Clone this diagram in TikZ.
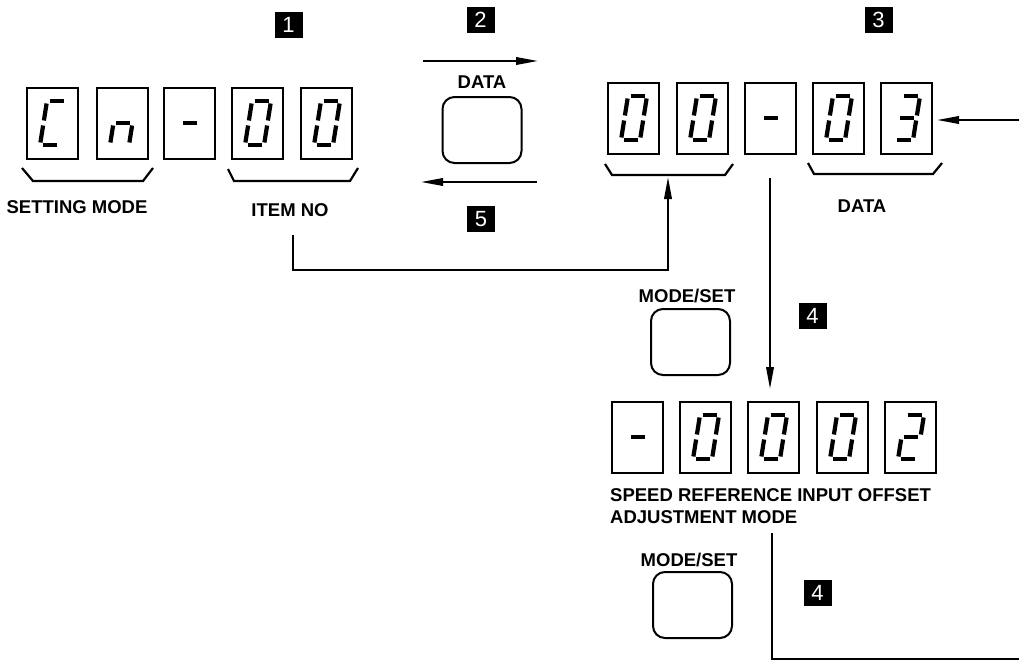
\documentclass[tikz,border=0pt]{standalone}
\usepackage{fontspec}
\setmainfont{Liberation Sans}
\usetikzlibrary{arrows.meta,calc}
\newcommand\ssga{\draw[segline] (22.5,13) -- (36.5,13);}
\newcommand\ssgb{\draw[segline] (38.6,15.5) -- (35.9,32.5);}
\newcommand\ssgc{\draw[segline] (35.1,37.5) -- (32.4,54.5);}
\newcommand\ssgd{\draw[segline] (15.5,57) -- (29.5,57);}
\newcommand\ssge{\draw[segline] (16.1,37.5) -- (13.4,54.5);}
\newcommand\ssgf{\draw[segline] (19.6,15.5) -- (16.9,32.5);}
\newcommand\ssgg{\draw[segline] (19,35) -- (33,35);}
\newcommand\sevenseg[4]{%
  \node[dbox] (#1) at (#2+25.5,#3+35.5) {};
  \begin{scope}[shift={(#2,#3)}]
    \foreach \s in {#4}{\csname ssg\s\endcsname}
  \end{scope}}
\tikzset{
  dbox/.style={draw, line width=2.2pt, minimum width=51pt, minimum height=71pt, inner sep=0pt},
  segline/.style={line width=4.2pt},
  badge/.style={fill=black, text=white, minimum width=28pt, minimum height=26pt, inner sep=0pt,
    font=\fontsize{22}{22}\selectfont},
  lbl/.style={inner sep=0pt, font=\bfseries\fontsize{18.5}{18.5}\selectfont},
  button/.style={draw, line width=2pt, rounded corners=12pt, minimum width=79pt, minimum height=66pt, inner sep=0pt},
  conn/.style={line width=2pt},
  arr/.style={line width=2pt, -{Triangle[length=22pt,width=7.5pt]}},
  brk/.style={line width=2.2pt}
}
\begin{document}
\begin{tikzpicture}[x=1pt,y=-1pt]
\useasboundingbox (0,0) rectangle (1019,661);
% left display
\sevenseg{L1}{27}{88}{a,f,e,d}
\sevenseg{L2}{97}{88}{g,e,c}
\sevenseg{L3}{164}{88}{g}
\sevenseg{L4}{232}{88}{a,b,c,d,e,f}
\sevenseg{L5}{301}{88}{a,b,c,d,e,f}
% right display
\sevenseg{R1}{608}{83}{a,b,c,d,e,f}
\sevenseg{R2}{677}{83}{a,b,c,d,e,f}
\sevenseg{R3}{745}{83}{g}
\sevenseg{R4}{813}{83}{a,b,c,d,e,f}
\sevenseg{R5}{881}{83}{a,b,c,d,g}
% bottom display
\sevenseg{B1}{612}{402}{g}
\sevenseg{B2}{680}{402}{a,b,c,d,e,f}
\sevenseg{B3}{748}{402}{a,b,c,d,e,f}
\sevenseg{B4}{817}{402}{a,b,c,d,e,f}
\sevenseg{B5}{885}{402}{a,b,g,e,d}
% brackets
\draw[brk] (22,168) -- (33,181) -- (143,181) -- (153,168);
\draw[brk] (228,169) -- (234,181) -- (350,181) -- (358,168);
\draw[brk] (605,164) -- (612,175) -- (725,175) -- (733,164);
\draw[brk] (808,163) -- (814,174) -- (933,174) -- (942,163);
% badges
\node[badge] (n1) at (288.5,25) {1};
\node[badge] (n2) at (480.5,20) {2};
\node[badge] (n3) at (878.5,20) {3};
\node[badge] (n5) at (481,219) {5};
\node[badge] (n4a) at (812.5,316) {4};
\node[badge] (n4b) at (817.5,593) {4};
% labels
\node[lbl] (setmode) at (77,207) {SETTING MODE};
\node[lbl] (itemno) at (290,210) {ITEM NO};
\node[lbl] (datar) at (862,206) {DATA};
\node[lbl] (datat) at (482,82) {DATA};
\node[lbl] (ms1) at (687,296) {MODE/SET};
\node[lbl] (ms2) at (689,560) {MODE/SET};
\node[lbl, anchor=west] (sp1) at (610,495) {SPEED REFERENCE INPUT OFFSET};
\node[lbl, anchor=west] (sp2) at (610,517) {ADJUSTMENT MODE};
% buttons
\node[button] (bdata) at (482,130) {};
\node[button] (bms1) at (690.5,342) {};
\node[button] (bms2) at (692.5,605) {};
% connector coordinates
\coordinate (t1) at (423,61);
\coordinate (t2) at (538,61);
\coordinate (u1) at (537,182);
\coordinate (u2) at (421,182);
\coordinate (c1) at (293,235);
\coordinate (cc) at (293,270);
\coordinate (ctip) at (668,177);
\coordinate (v1) at (770,178);
\coordinate (v2) at (770,389);
\coordinate (w1) at (772,533);
\coordinate (w2) at (772,659);
\coordinate (w3) at (1019,659);
\coordinate (r1) at (1019,120);
\coordinate (r2) at (937,120);
% connectors
\draw[arr] (t1) -- (t2);
\draw[arr] (u1) -- (u2);
\draw[arr] (c1) -- (cc) -| (ctip);
\draw[arr] (v1) -- (v2);
\draw[conn] (w1) -- (w2) -- (w3);
\draw[arr] (r1) -- (r2);
\end{tikzpicture}
\end{document}
